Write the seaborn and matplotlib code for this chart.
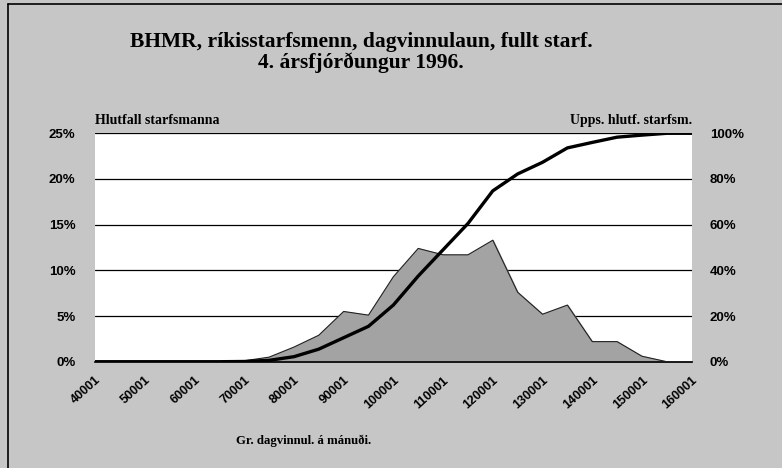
import numpy as np
import pandas as pd
import seaborn as sns
import matplotlib.pyplot as plt
from matplotlib.ticker import FuncFormatter

# salary bands (lower limit, kr per month), every 5000
laun = [40001, 45001, 50001, 55001, 60001, 65001, 70001, 75001, 80001, 85001,
        90001, 95001, 100001, 105001, 110001, 115001, 120001, 125001, 130001,
        135001, 140001, 145001, 150001, 155001, 160001]
# share of employees in each band (%)
hlutfall = [0, 0, 0, 0, 0, 0, 0.1, 0.5, 1.6, 2.9,
            5.5, 5.1, 9.3, 12.4, 11.7, 11.7, 13.3, 7.6, 5.2,
            6.2, 2.2, 2.2, 0.6, 0, 0]
# cumulative share (%)
uppsafnad = [0, 0, 0, 0, 0, 0, 0.1, 0.6, 2.2, 5.5,
             10.5, 15.5, 24.8, 37.5, 49.0, 60.5, 74.8, 82.2, 87.3,
             93.6, 96.0, 98.3, 99.2, 100, 100]
xticks = list(range(40001, 160002, 10000))

df = pd.DataFrame({"laun": laun, "hlutfall": hlutfall, "uppsafnad": uppsafnad})

sns.set_style("white")
plt.rcParams['font.family'] = ['Liberation Sans', 'DejaVu Sans']
plt.rcParams['text.color'] = 'black'
plt.rcParams['xtick.color'] = 'black'
plt.rcParams['ytick.color'] = 'black'

bg = "#c6c6c6"
fig = plt.figure(figsize=(7.82, 4.68), dpi=100, facecolor=bg)
ax = fig.add_axes([0.1215, 0.2271, 0.763, 0.4881])
ax.set_facecolor("white")

# area (share per band)
ax.fill_between(df["laun"], df["hlutfall"], color="#a3a3a3", zorder=2)
sns.lineplot(data=df, x="laun", y="hlutfall", ax=ax, color="#222222", linewidth=0.8, zorder=3)
ax.set_ylim(0, 25)
ax.set_xlim(40001, 160001)
ax.set_yticks([0, 5, 10, 15, 20, 25])
ax.yaxis.set_major_formatter(FuncFormatter(lambda v, p: f"{v:.0f}%"))
ax.set_xticks(xticks)
ax.set_xticklabels([str(t) for t in xticks], rotation=42, ha="right",
                   rotation_mode="anchor", fontsize=9, fontweight="bold")
for lab in ax.get_yticklabels():
    lab.set_fontweight("bold")
ax.tick_params(axis="y", labelsize=9.5, pad=14, length=0)
ax.tick_params(axis="x", pad=9, length=0)
ax.grid(axis="y", color="black", linewidth=0.9)
ax.set_axisbelow(True)
for s in ["top", "right", "left"]:
    ax.spines[s].set_visible(False)
ax.spines["bottom"].set_color("black")
ax.spines["bottom"].set_linewidth(1.2)
ax.set_xlabel("")
ax.set_ylabel("")

# cumulative line on right axis
ax2 = ax.twinx()
sns.lineplot(data=df, x="laun", y="uppsafnad", ax=ax2, color="black", linewidth=2.4)
ax2.set_ylim(0, 100)
ax2.set_yticks([0, 20, 40, 60, 80, 100])
ax2.yaxis.set_major_formatter(FuncFormatter(lambda v, p: f"{v:.0f}%"))
for lab in ax2.get_yticklabels():
    lab.set_fontweight("bold")
ax2.tick_params(axis="y", labelsize=9.5, pad=13, length=0)
for s in ax2.spines.values():
    s.set_visible(False)
ax2.set_ylabel("")
ax2.set_xlabel("")

serif = ["Liberation Serif", "DejaVu Serif"]
fig.text(0.4616, 0.910, "BHMR, ríkisstarfsmenn, dagvinnulaun, fullt starf.",
         ha="center", va="center", fontsize=15.5, fontweight="bold", family=serif)
fig.text(0.4616, 0.866, "4. ársfjórðungur 1996.",
         ha="center", va="center", fontsize=15.5, fontweight="bold", family=serif)
fig.text(0.1215, 0.728, "Hlutfall starfsmanna", ha="left", va="bottom",
         fontsize=10, fontweight="bold", family=serif)
fig.text(0.8845, 0.728, "Upps. hlutf. starfsm.", ha="right", va="bottom",
         fontsize=10, fontweight="bold", family=serif)
fig.text(0.388, 0.058, "Gr. dagvinnul. á mánuði.", ha="center", va="center",
         fontsize=9.2, fontweight="bold", family=serif)

# frame lines top and left
fig.add_artist(plt.Line2D([8 / 782, 1], [1 - 4 / 468, 1 - 4 / 468], color="black", linewidth=1.2))
fig.add_artist(plt.Line2D([8 / 782, 8 / 782], [0, 1 - 4 / 468], color="black", linewidth=1.2))

fig.savefig("out.png", dpi=100, facecolor=bg)
